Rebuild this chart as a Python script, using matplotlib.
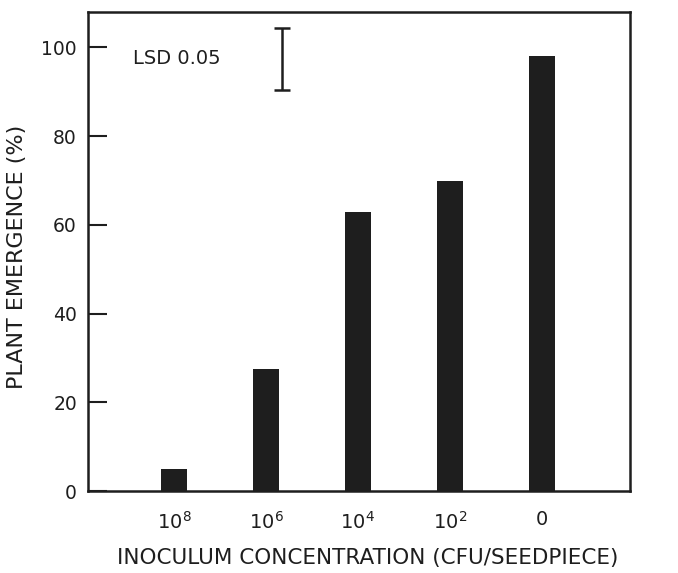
import matplotlib
matplotlib.use("Agg")
import matplotlib.pyplot as plt

# concentrations of inoculum (CFU/seedpiece) and plant emergence (%)
concentrations = [r"$\mathregular{10^8}$", r"$\mathregular{10^6}$", r"$\mathregular{10^4}$",
                  r"$\mathregular{10^2}$", "0"]
emergence = [5, 27.5, 63, 70, 98]
lsd_value = 14
yticks = [0, 20, 40, 60, 80, 100]

plt.rcParams['font.family'] = ['DejaVu Sans']

fig = plt.figure(figsize=(6.78, 5.73), dpi=100)
ax = fig.add_axes([0.1298, 0.1431, 0.7994, 0.8360])

positions = list(range(len(emergence)))
ax.bar(positions, emergence, width=0.28, color='#1e1e1e')

# LSD bar
ax.errorbar(1.18, 97.4, yerr=lsd_value / 2, fmt='none', ecolor='#1e1e1e',
            elinewidth=1.8, capsize=5.5, capthick=1.8)
ax.text(-0.45, 97.6, "LSD 0.05", ha='left', va='center', fontsize=14, color='#1e1e1e')

ax.set_xlim(-0.935, 4.96)
ax.set_ylim(0, 108)
ax.set_xticks(positions, concentrations)
ax.set_yticks(yticks)
ax.tick_params(axis='x', length=0, pad=14, labelsize=14, colors='#1e1e1e')
ax.tick_params(axis='y', direction='in', length=14, width=1.5, pad=8, labelsize=13.5,
               colors='#1e1e1e')
for s in ax.spines.values():
    s.set_linewidth(1.8)
    s.set_color('#1e1e1e')

fig.text(368 / 678, 1 - 558 / 573, "INOCULUM CONCENTRATION (CFU/SEEDPIECE)",
         ha='center', va='center', fontsize=15.5, color='#1e1e1e')
fig.text(17 / 678, 1 - 257 / 573, "PLANT EMERGENCE (%)", ha='center', va='center',
         rotation=90, fontsize=16, color='#1e1e1e')

fig.savefig("out.png", dpi=100)
